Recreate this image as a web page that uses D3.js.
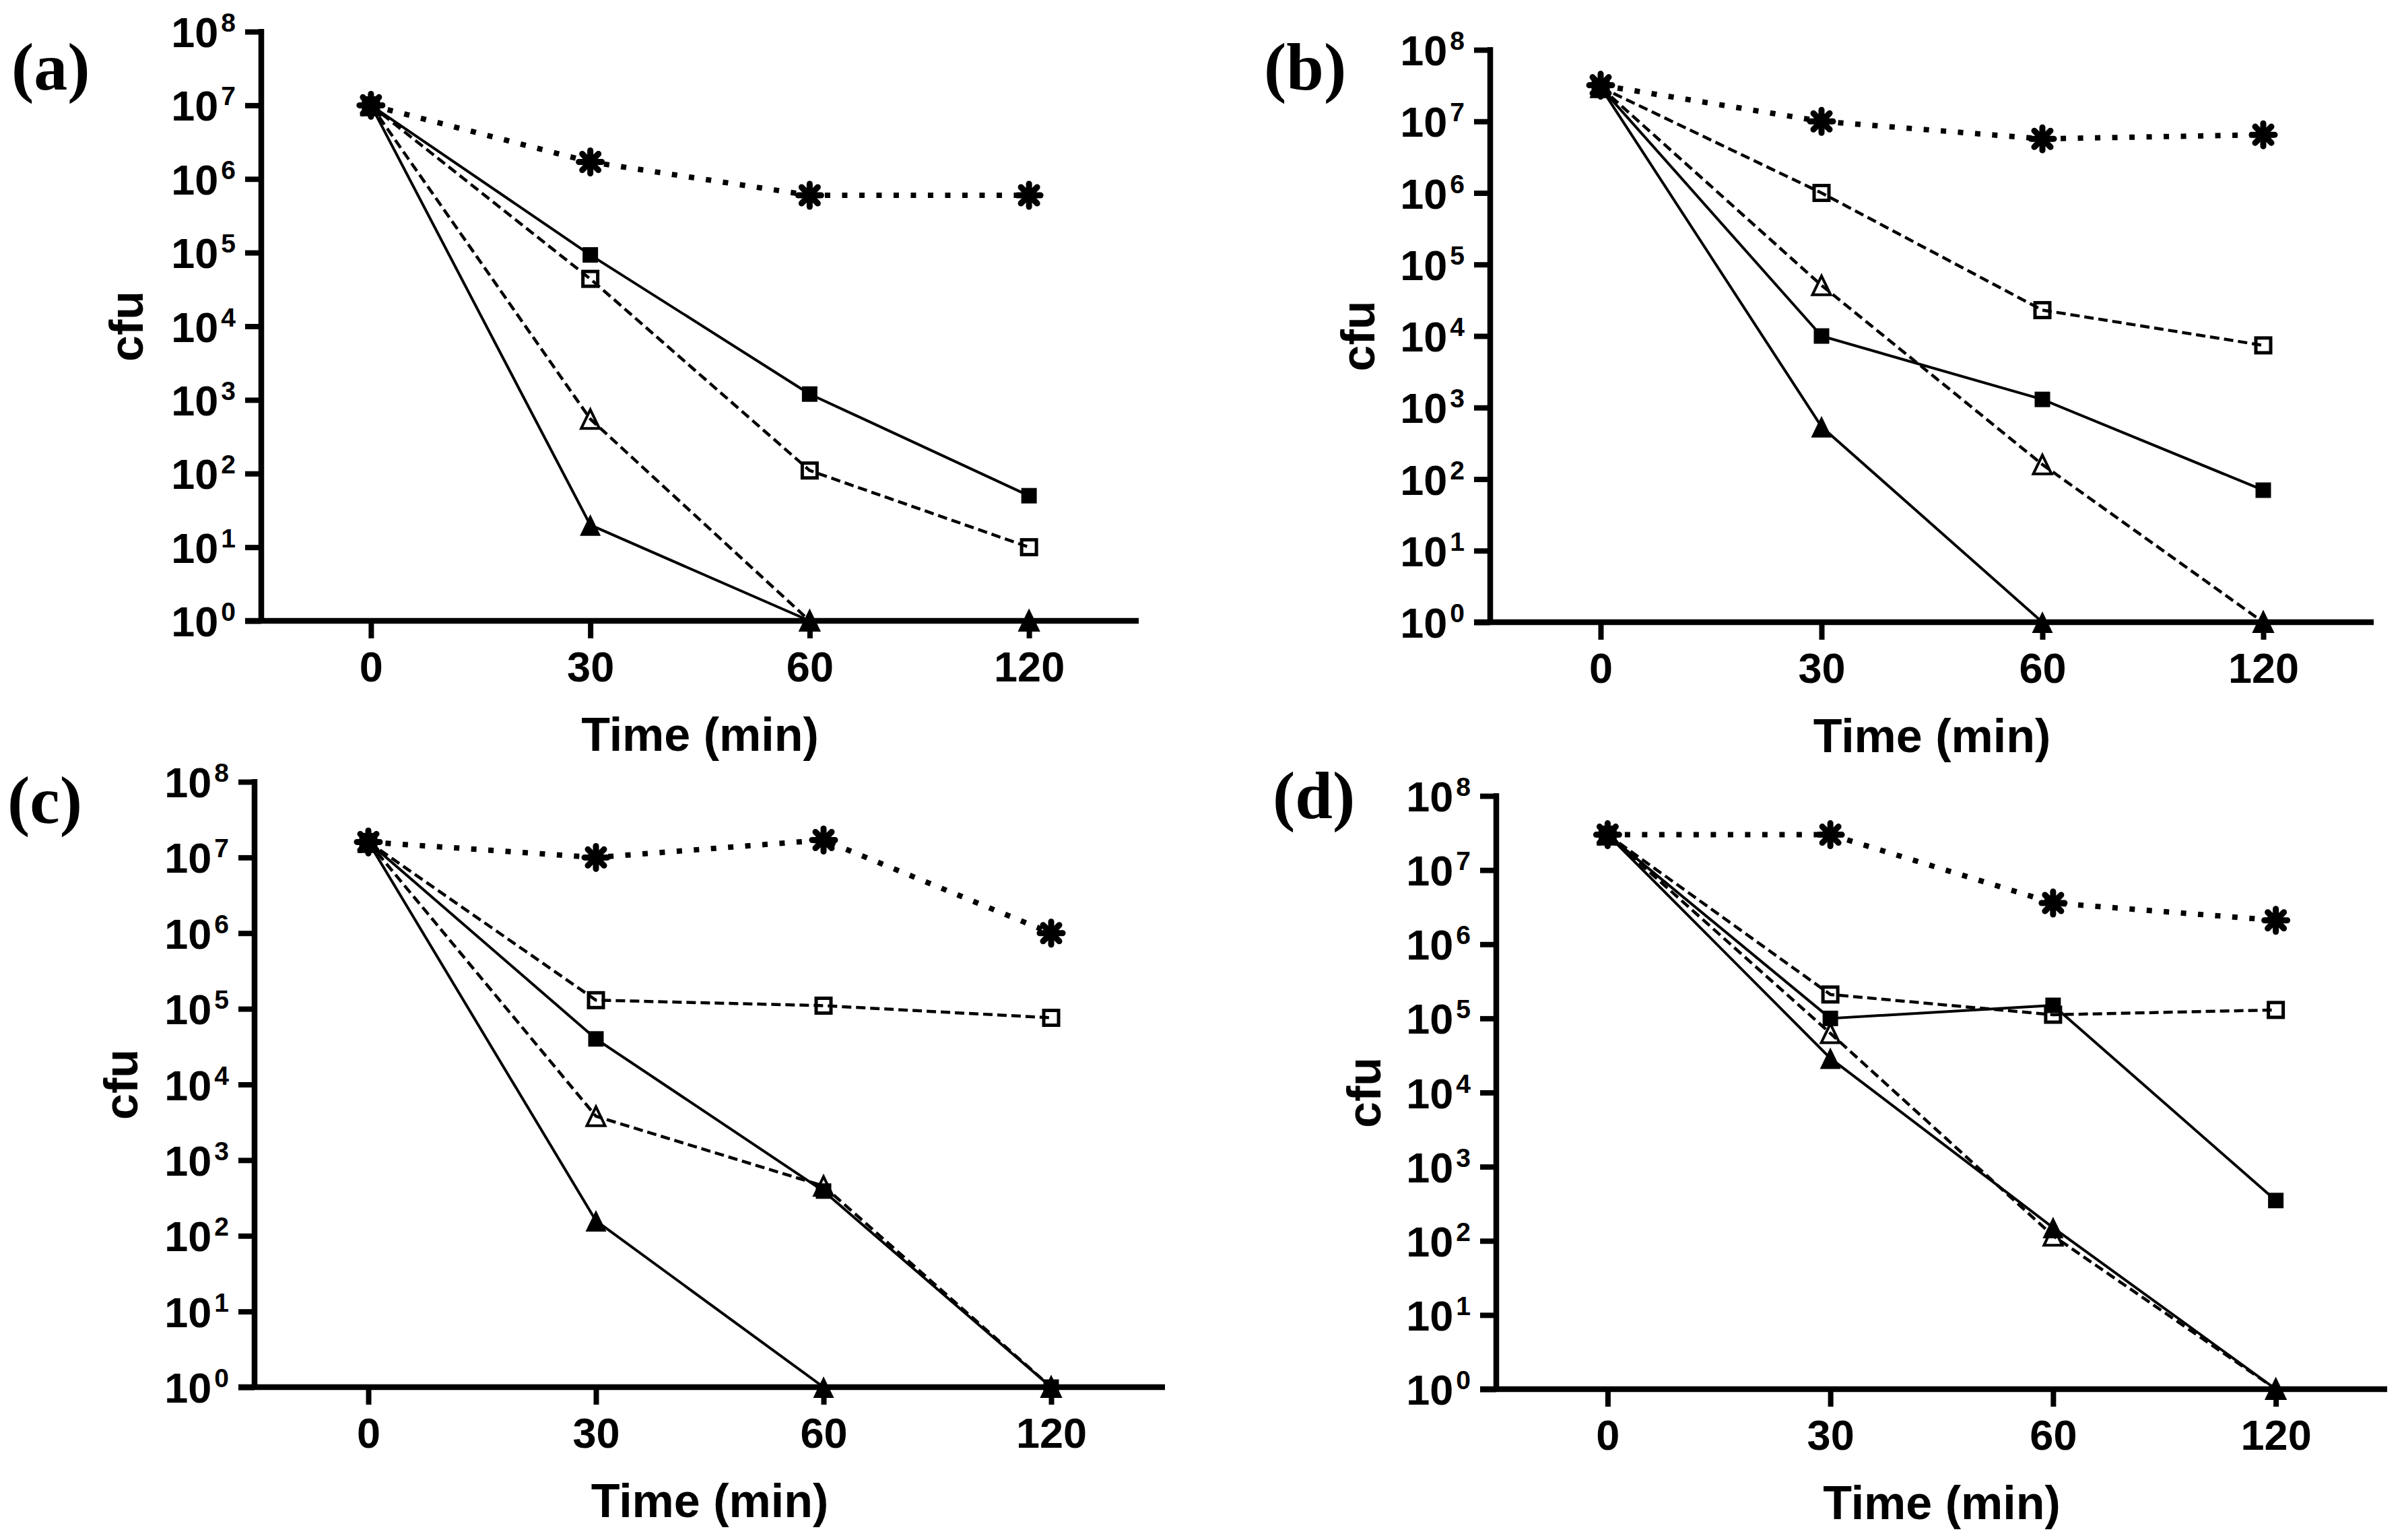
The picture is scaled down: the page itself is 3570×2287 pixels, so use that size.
<!DOCTYPE html>
<html>
<head>
<meta charset="utf-8">
<script src="https://cdn.jsdelivr.net/npm/d3@7"></script>
<style>html,body{margin:0;padding:0;background:#fff;}</style>
</head>
<body>
<svg id="chart" width="3570" height="2287"></svg>
<script>
// ---------- data ----------
const times = ["0", "30", "60", "120"];
const panelLabels = ["(a)", "(b)", "(c)", "(d)"];
const yExponents = [0, 1, 2, 3, 4, 5, 6, 7, 8];
const xTitle = "Time (min)";
const yTitle = "cfu";

const a_asterisk       = [1e7, 1.7e6, 6e5, 6e5];
const a_openSquare     = [1e7, 4.4e4, 110, 10];
const a_filledSquare   = [1e7, 9.3e4, 1.2e3, 50];
const a_openTriangle   = [1e7, 550, 1, 1];
const a_filledTriangle = [1e7, 20, 1, 1];

const b_asterisk       = [3.2e7, 1e7, 5.7e6, 6.5e6];
const b_openSquare     = [3e7, 1e6, 2.3e4, 7.4e3];
const b_filledSquare   = [3e7, 1e4, 1.3e3, 70];
const b_openTriangle   = [3e7, 5.1e4, 160, 1];
const b_filledTriangle = [3e7, 540, 1, 1];

const c_asterisk       = [1.6e7, 1e7, 1.7e7, 1e6];
const c_openSquare     = [1.6e7, 1.3e5, 1.1e5, 7.6e4];
const c_filledSquare   = [1.6e7, 4e4, 390, 1];
const c_openTriangle   = [1.6e7, 3.8e3, 455, 1];
const c_filledTriangle = [1.6e7, 158, 1, 1];

const d_asterisk       = [3e7, 3e7, 3.6e6, 2.1e6];
const d_openSquare     = [3e7, 2.1e5, 1.12e5, 1.3e5];
const d_filledSquare   = [3e7, 1e5, 1.5e5, 350];
const d_openTriangle   = [3e7, 6.3e4, 117, 1];
const d_filledTriangle = [3e7, 2.9e4, 151, 1];

// ---------- assembly ----------
const panelSeries = [
  {asterisk: a_asterisk, openSquare: a_openSquare, filledSquare: a_filledSquare, openTriangle: a_openTriangle, filledTriangle: a_filledTriangle},
  {asterisk: b_asterisk, openSquare: b_openSquare, filledSquare: b_filledSquare, openTriangle: b_openTriangle, filledTriangle: b_filledTriangle},
  {asterisk: c_asterisk, openSquare: c_openSquare, filledSquare: c_filledSquare, openTriangle: c_openTriangle, filledTriangle: c_filledTriangle},
  {asterisk: d_asterisk, openSquare: d_openSquare, filledSquare: d_filledSquare, openTriangle: d_openTriangle, filledTriangle: d_filledTriangle}
];
const seriesOrder = ["asterisk", "openSquare", "filledSquare", "openTriangle", "filledTriangle"];

const styles = {
  asterisk:       {dash: "8,17.5", width: 8},
  openSquare:     {dash: "14,7",   width: 4.5},
  filledSquare:   {dash: null,     width: 4},
  openTriangle:   {dash: "14,7",   width: 4.5},
  filledTriangle: {dash: null,     width: 4}
};

const layout = [
  {xL: 388,  xR: 1691, yTop: 47,   yBot: 922,  labX: 17,   labY: 133,  cfuX: 212},
  {xL: 2213, xR: 3525, yTop: 74,   yBot: 924,  labX: 1877, labY: 133,  cfuX: 2041},
  {xL: 378,  xR: 1730, yTop: 1161, yBot: 2060, labX: 11,   labY: 1222, cfuX: 204},
  {xL: 2222, xR: 3545, yTop: 1182, yBot: 2063, labX: 1890, labY: 1215, cfuX: 2050}
];

const SANS = "'Liberation Sans', Arial, Helvetica, sans-serif";
const SERIF = "'Liberation Serif', 'Times New Roman', serif";

const svg = d3.select("#chart");
svg.append("rect").attr("width", 3570).attr("height", 2287).attr("fill", "#fff");

function drawMarker(g, type, cx, cy) {
  const m = g.append("g").attr("transform", `translate(${cx},${cy})`);
  if (type === "asterisk") {
    [0, 45, 90, 135].forEach(a => {
      m.append("line").attr("x1", -17).attr("x2", 17).attr("y1", 0).attr("y2", 0)
        .attr("transform", `rotate(${a})`)
        .attr("stroke", "#000").attr("stroke-width", 9).attr("stroke-linecap", "round");
    });
    m.append("circle").attr("r", 10).attr("fill", "#000");
  } else if (type === "filledSquare") {
    m.append("path").attr("d", d3.symbol(d3.symbolSquare, 23 * 23)()).attr("fill", "#000");
  } else if (type === "openSquare") {
    m.append("rect").attr("x", -11).attr("y", -11).attr("width", 22).attr("height", 22)
      .attr("fill", "none").attr("stroke", "#000").attr("stroke-width", 5);
  } else if (type === "filledTriangle") {
    m.append("path").attr("d", "M0,-16L15.5,16L-15.5,16Z").attr("fill", "#000");
  } else if (type === "openTriangle") {
    m.append("path").attr("d", "M0,-14L13.5,14L-13.5,14Z").attr("fill", "none")
      .attr("stroke", "#000").attr("stroke-width", 4).attr("stroke-linejoin", "miter");
  }
}

panelSeries.forEach((series, i) => {
  const L = layout[i];
  const g = svg.append("g");
  const x = d3.scalePoint().domain(times).range([L.xL, L.xR]).padding(0.5);
  const y = d3.scaleLog().domain([1, 1e8]).range([L.yBot, L.yTop]);

  // lines
  const line = d3.line().x((d, j) => x(times[j])).y(d => y(d));
  seriesOrder.forEach(k => {
    const st = styles[k];
    g.append("path").datum(series[k]).attr("d", line)
      .attr("fill", "none").attr("stroke", "#000").attr("stroke-width", st.width)
      .attr("stroke-dasharray", st.dash).attr("stroke-linecap", "butt").attr("stroke-linejoin", "round");
  });

  // y axis ticks
  const yAxis = g.append("g").attr("transform", `translate(${L.xL},0)`)
    .call(d3.axisLeft(y).tickValues(yExponents.map(e => Math.pow(10, e))).tickSize(24).tickSizeOuter(0).tickFormat(() => ""));
  yAxis.select(".domain").remove();
  yAxis.selectAll(".tick line").attr("stroke", "#000").attr("stroke-width", 8);

  // x axis ticks
  const xAxis = g.append("g").attr("transform", `translate(0,${L.yBot})`)
    .call(d3.axisBottom(x).tickSize(26).tickSizeOuter(0));
  xAxis.select(".domain").remove();
  xAxis.selectAll(".tick line").attr("stroke", "#000").attr("stroke-width", 8);
  xAxis.selectAll(".tick text").attr("y", 90).attr("dy", 0)
    .attr("font-family", SANS).attr("font-weight", "bold").attr("font-size", 63).attr("fill", "#000");

  // axis lines
  g.append("line").attr("x1", L.xL).attr("x2", L.xL).attr("y1", L.yTop - 4).attr("y2", L.yBot)
    .attr("stroke", "#000").attr("stroke-width", 8.5);
  g.append("line").attr("x1", L.xL - 24).attr("x2", L.xR).attr("y1", L.yBot).attr("y2", L.yBot)
    .attr("stroke", "#000").attr("stroke-width", 8.5);

  // y tick labels with superscripts
  yExponents.forEach(e => {
    const t = g.append("text").attr("x", L.xL - 38).attr("y", y(Math.pow(10, e)) + 23)
      .attr("text-anchor", "end").attr("font-family", SANS).attr("font-weight", "bold").attr("fill", "#000");
    t.append("tspan").attr("font-size", 63).text("10");
    t.append("tspan").attr("font-size", 39).attr("dx", 4).attr("dy", -23).text(String(e));
  });

  // markers
  seriesOrder.forEach(k => {
    series[k].forEach((v, j) => drawMarker(g, k, x(times[j]), y(v)));
  });

  // titles
  g.append("text").attr("x", (L.xL + L.xR) / 2).attr("y", L.yBot + 193)
    .attr("text-anchor", "middle").attr("font-family", SANS).attr("font-weight", "bold")
    .attr("font-size", 70).attr("fill", "#000").text(xTitle);
  g.append("text").attr("transform", `translate(${L.cfuX},${(L.yTop + L.yBot) / 2}) rotate(-90)`)
    .attr("text-anchor", "middle").attr("font-family", SANS).attr("font-weight", "bold")
    .attr("font-size", 70).attr("fill", "#000").text(yTitle);

  // panel label
  g.append("text").attr("x", L.labX).attr("y", L.labY)
    .attr("font-family", SERIF).attr("font-weight", "bold").attr("font-size", 100)
    .attr("fill", "#000").text(panelLabels[i]);
});
</script>
</body>
</html>
